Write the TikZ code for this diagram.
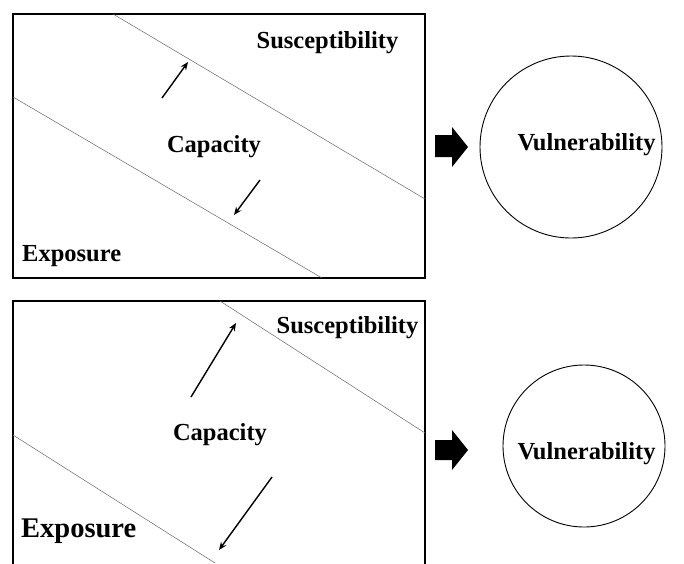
\documentclass[tikz,border=0pt]{standalone}
\usepackage{fontspec}
\setmainfont{Liberation Serif}
\usetikzlibrary{arrows.meta}
\begin{document}
\begin{tikzpicture}[x=1pt,y=-1pt,
  frame/.style={line width=1.5pt},
  band/.style={line width=0.5pt, draw=black!60},
  shift arrow/.style={line width=1.4pt,-{Stealth[length=8pt,width=6.5pt]}},
  lbl/.style={font=\bfseries\fontsize{24.5}{28}\selectfont, inner sep=0pt},
  circ/.style={circle, draw, line width=0.9pt, inner sep=0pt},
  blockarrow/.style={fill=black}]
\useasboundingbox (0,0) rectangle (684,563);
% top panel
\draw[frame] (13,14) rectangle (425,278);
\coordinate (t1a) at (113,14); \coordinate (t1b) at (425,199);
\coordinate (t2a) at (13,97);  \coordinate (t2b) at (322,278);
\draw[band] (t1a) -- (t1b);
\draw[band] (t2a) -- (t2b);
\node[lbl] (tsus) at (327.5,43) {Susceptibility};
\node[lbl] (tcap) at (214,147) {Capacity};
\node[lbl,anchor=west] (texp) at (22,256) {Exposure};
\coordinate (tua) at (162,98); \coordinate (tub) at (188,62);
\coordinate (tda) at (260,180); \coordinate (tdb) at (234,215);
\draw[shift arrow] (tua) -- (tub);
\draw[shift arrow] (tda) -- (tdb);
\fill[blockarrow] (435,135) -- (452,135) -- (452,127) -- (468,147) -- (452,167) -- (452,157) -- (435,157) -- cycle;
\node[circ, minimum size=182pt] (tcirc) at (571,147) {};
\node[lbl] (tvul) at (586.5,145) {Vulnerability};
% bottom panel
\draw[frame] (13,566) -- (13,301) -- (425,301) -- (425,566);
\coordinate (b1a) at (220,301); \coordinate (b1b) at (425,433);
\coordinate (b2a) at (13,435);  \coordinate (b2b) at (215,563);
\draw[band] (b1a) -- (b1b);
\draw[band] (b2a) -- (b2b);
\node[lbl] (bsus) at (347.5,328) {Susceptibility};
\node[lbl] (bcap) at (220,435) {Capacity};
\node[lbl,anchor=west,font=\bfseries\fontsize{28.5}{32}\selectfont] (bexp) at (21,531) {Exposure};
\coordinate (bua) at (191,397); \coordinate (bub) at (236,323);
\coordinate (bda) at (272,477); \coordinate (bdb) at (219,550);
\draw[shift arrow] (bua) -- (bub);
\draw[shift arrow] (bda) -- (bdb);
\fill[blockarrow] (435,440) -- (452,440) -- (452,430) -- (468,450) -- (452,470) -- (452,460) -- (435,460) -- cycle;
\node[circ, minimum size=162pt] (bcirc) at (584,446) {};
\node[lbl] (bvul) at (586.5,454) {Vulnerability};
\end{tikzpicture}
\end{document}
